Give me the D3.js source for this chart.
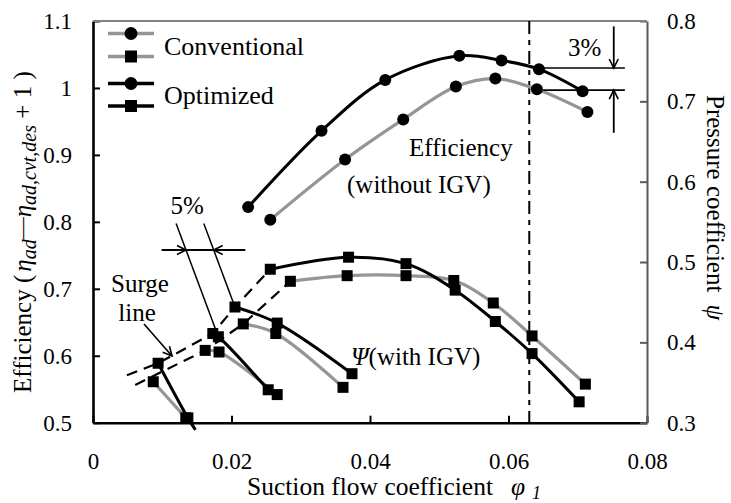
<!DOCTYPE html>
<html>
<head>
<meta charset="utf-8">
<script src="https://cdn.jsdelivr.net/npm/d3@7"></script>
<style>
  body { margin: 0; background: #fff; }
  svg text { font-family: "Liberation Serif", "Times New Roman", serif; fill: #000; }
</style>
</head>
<body>
<script>
// ---- data ----
let xTicks = [0, 0.02, 0.04, 0.06, 0.08];
let yLeftTicks = [0.5, 0.6, 0.7, 0.8, 0.9, 1, 1.1];
let yRightTicks = [0.3, 0.4, 0.5, 0.6, 0.7, 0.8];

// efficiency (without IGV), left axis
let effConvPhi = [0.0256, 0.0364, 0.0448, 0.0524, 0.0581, 0.0641, 0.0714];
let effConvVal = [0.803, 0.893, 0.953, 1.002, 1.014, 0.998, 0.964];
let effOptPhi = [0.0224, 0.0330, 0.0422, 0.0529, 0.0590, 0.0644, 0.0707];
let effOptVal = [0.822, 0.936, 1.012, 1.048, 1.041, 1.028, 0.995];

// pressure coefficient (with IGV), right axis, one list per IGV setting
let psiConvPhi = [
  [0.0087, 0.0134],
  [0.0162, 0.0182, 0.0266],
  [0.0217, 0.0264, 0.0361],
  [0.0285, 0.0367, 0.0452, 0.0521, 0.0578, 0.0634, 0.0711]
];
let psiConvVal = [
  [0.351, 0.306],
  [0.390, 0.388, 0.335],
  [0.423, 0.411, 0.344],
  [0.476, 0.483, 0.483, 0.477, 0.449, 0.408, 0.348]
];
let psiOptPhi = [
  [0.0094, 0.0137, 0.0148],
  [0.0173, 0.0181, 0.0253],
  [0.0205, 0.0266, 0.0374],
  [0.0256, 0.0369, 0.0452, 0.0523, 0.0581, 0.0634, 0.0702]
];
let psiOptVal = [
  [0.374, 0.306, 0.291],
  [0.411, 0.407, 0.341],
  [0.444, 0.424, 0.361],
  [0.491, 0.506, 0.498, 0.465, 0.426, 0.386, 0.326]
];

// surge lines
let surgeOptPhi = [0.0049, 0.0094, 0.0173, 0.0205, 0.0256];
let surgeOptVal = [0.359, 0.374, 0.411, 0.444, 0.491];
let surgeConvPhi = [0.0061, 0.0162, 0.0217, 0.0285];
let surgeConvVal = [0.347, 0.390, 0.423, 0.476];

let designPhi = 0.063;

// ---- layout ----
let W = 731, H = 503;
let m = { left: 93, right: 647, top: 21, bottom: 422.7 };
let gray = "#959595";
let font = 25;
let tickFont = 23;

let svg = d3.select("body").append("svg").attr("width", W).attr("height", H);

let x = d3.scaleLinear().domain([0, 0.08]).range([m.left, m.right]);
let yL = d3.scaleLinear().domain([0.5, 1.1]).range([m.bottom, m.top]);
let yR = d3.scaleLinear().domain([0.3, 0.8]).range([m.bottom, m.top]);

let zip = (a, b) => a.map((v, i) => [v, b[i]]);

// arrow head
svg.append("defs").append("marker")
  .attr("id", "arr")
  .attr("markerUnits", "userSpaceOnUse")
  .attr("markerWidth", 20).attr("markerHeight", 20)
  .attr("refX", 0).attr("refY", 0)
  .attr("viewBox", "-10 -10 20 20")
  .attr("orient", "auto")
  .append("path")
  .attr("d", "M-9,-4.5L0,0L-9,4.5")
  .attr("fill", "none").attr("stroke", "#000").attr("stroke-width", 1.6);

// ---- axes ----
let DrawAxes = () =>
{
  let gx = svg.append("g")
    .attr("transform", "translate(0," + m.bottom + ")")
    .call(d3.axisBottom(x).tickValues(xTicks).tickSize(-7).tickSizeOuter(0).tickPadding(30).tickFormat(d => String(d)));
  let gl = svg.append("g")
    .attr("transform", "translate(" + m.left + ",0)")
    .call(d3.axisLeft(yL).tickValues(yLeftTicks).tickSize(-7).tickSizeOuter(0).tickPadding(21).tickFormat(d => String(d)));
  let gr = svg.append("g")
    .attr("transform", "translate(" + m.right + ",0)")
    .call(d3.axisRight(yR).tickValues(yRightTicks).tickSize(-7).tickSizeOuter(0).tickPadding(20).tickFormat(d => String(d)));

  [gx, gl].forEach(g =>
  {
    g.select(".domain").attr("stroke", "#000").attr("stroke-width", 2.6);
    g.selectAll(".tick line").attr("stroke", "#000").attr("stroke-width", 2);
  });
  gr.select(".domain").attr("stroke", "#5a5a5a").attr("stroke-width", 2);
  gr.selectAll(".tick line").attr("stroke", "#5a5a5a").attr("stroke-width", 2);
  [gx, gl, gr].forEach(g =>
    g.selectAll(".tick text").attr("font-size", tickFont).attr("fill", "#000"));

  // top frame line
  svg.append("line")
    .attr("x1", m.left).attr("x2", m.right).attr("y1", m.top).attr("y2", m.top)
    .attr("stroke", "#808080").attr("stroke-width", 2);
};

let DrawTitles = () =>
{
  // bottom
  let tb = svg.append("text").attr("x", 247).attr("y", 495).attr("font-size", 25.5);
  tb.append("tspan").text("Suction flow coefficient");
  tb.append("tspan").attr("font-style", "italic").attr("dx", 18).text("\u03c6");
  tb.append("tspan").attr("font-style", "italic").attr("font-size", 18).attr("dx", 7).attr("dy", 4).text("1");

  // left
  let tl = svg.append("text")
    .attr("transform", "translate(31,393) rotate(-90)")
    .attr("font-size", font);
  tl.append("tspan").text("Efficiency (");
  tl.append("tspan").attr("font-style", "italic").attr("dx", 3).text("\u03b7");
  tl.append("tspan").attr("font-style", "italic").attr("font-size", 20).attr("dy", 5).text("ad");
  tl.append("tspan").attr("dy", -7).attr("font-size", 22).text("\u2014");
  tl.append("tspan").attr("font-style", "italic").attr("dy", 2).text("\u03b7");
  tl.append("tspan").attr("font-style", "italic").attr("font-size", 20).attr("dy", 5).text("ad,cvt,des");
  tl.append("tspan").attr("dy", -5).text(" + 1  )");

  // right
  let tr = svg.append("text")
    .attr("transform", "translate(707,95) rotate(90)")
    .attr("font-size", font);
  tr.append("tspan").text("Pressure coefficient");
  tr.append("tspan").attr("font-style", "italic").attr("dx", 12).text("\u03c8");
};

// ---- data marks ----
let line = (sx, sy) => d3.line().x(d => sx(d[0])).y(d => sy(d[1])).curve(d3.curveCatmullRom.alpha(0.5));

let DrawSeries = () =>
{
  let lineR = line(x, yR);
  let lineL = line(x, yL);

  // vertical design line
  svg.append("line")
    .attr("x1", x(designPhi)).attr("x2", x(designPhi))
    .attr("y1", m.top).attr("y2", m.bottom)
    .attr("stroke", "#000").attr("stroke-width", 2).attr("stroke-dasharray", "13,6,5,6");

  // surge lines
  [zip(surgeOptPhi, surgeOptVal), zip(surgeConvPhi, surgeConvVal)].forEach(s =>
    svg.append("path").attr("d", d3.line().x(d => x(d[0])).y(d => yR(d[1]))(s))
      .attr("fill", "none").attr("stroke", "#000").attr("stroke-width", 2.2).attr("stroke-dasharray", "11,7"));

  // conventional (gray) then optimized (black)
  let convCurves = psiConvPhi.map((p, i) => zip(p, psiConvVal[i]));
  let optCurves = psiOptPhi.map((p, i) => zip(p, psiOptVal[i]));
  let effConv = zip(effConvPhi, effConvVal);
  let effOpt = zip(effOptPhi, effOptVal);

  convCurves.forEach(c => svg.append("path").attr("d", lineR(c))
    .attr("fill", "none").attr("stroke", gray).attr("stroke-width", 3.2));
  svg.append("path").attr("d", lineL(effConv))
    .attr("fill", "none").attr("stroke", gray).attr("stroke-width", 3.2);
  optCurves.forEach(c => svg.append("path").attr("d", lineR(c))
    .attr("fill", "none").attr("stroke", "#000").attr("stroke-width", 3));
  svg.append("path").attr("d", lineL(effOpt))
    .attr("fill", "none").attr("stroke", "#000").attr("stroke-width", 3);

  // markers
  let sq = 11;
  let allSquares = convCurves.flat().concat(optCurves.flat()).filter(d => d[1] >= 0.3);
  svg.selectAll("rect.pt").data(allSquares).enter().append("rect")
    .attr("class", "pt")
    .attr("x", d => x(d[0]) - sq / 2).attr("y", d => yR(d[1]) - sq / 2)
    .attr("width", sq).attr("height", sq).attr("fill", "#000");
  svg.selectAll("circle.pt").data(effConv.concat(effOpt)).enter().append("circle")
    .attr("class", "pt")
    .attr("cx", d => x(d[0])).attr("cy", d => yL(d[1])).attr("r", 6).attr("fill", "#000");
};

// ---- annotations (positions in data units) ----
let DrawNotes = () =>
{
  let seg = (x1, y1, x2, y2, w, arrow) =>
  {
    let l = svg.append("line").attr("x1", x1).attr("y1", y1).attr("x2", x2).attr("y2", y2)
      .attr("stroke", "#000").attr("stroke-width", w);
    if (arrow) l.attr("marker-end", "url(#arr)");
  };

  // 3% between efficiency curves
  let e1 = yL(1.0298), e2 = yL(0.9968), xa = x(0.0752);
  seg(x(0.0650), e1, x(0.0768), e1, 1.6);
  seg(x(0.0650), e2, x(0.0768), e2, 1.6);
  seg(xa, yL(1.092), xa, e1, 1.8, true);
  seg(xa, yL(0.933), xa, e2, 1.8, true);
  svg.append("text").attr("x", x(0.0686)).attr("y", yL(1.048)).attr("font-size", font).text("3%");

  // 5% between surge lines
  let yh = yR(0.515);
  let s1 = [x(0.0120), yR(0.548), x(0.0181), yR(0.407)];
  let s2 = [x(0.0160), yR(0.548), x(0.0205), yR(0.444)];
  seg(s1[0], s1[1], s1[2], s1[3], 1.5);
  seg(s2[0], s2[1], s2[2], s2[3], 1.5);
  let ix1 = s1[0] + (yh - s1[1]) / (s1[3] - s1[1]) * (s1[2] - s1[0]);
  let ix2 = s2[0] + (yh - s2[1]) / (s2[3] - s2[1]) * (s2[2] - s2[0]);
  seg(x(0.0099), yh, ix1, yh, 2, true);
  seg(x(0.0220), yh, ix2, yh, 2, true);
  seg(ix1, yh, ix2, yh, 2);
  svg.append("text").attr("x", x(0.0136)).attr("y", yR(0.560)).attr("text-anchor", "middle")
    .attr("font-size", font).text("5%");

  // surge line label
  svg.append("text").attr("x", 140).attr("y", 292).attr("text-anchor", "middle").attr("font-size", font).text("Surge");
  svg.append("text").attr("x", 137).attr("y", 321).attr("text-anchor", "middle").attr("font-size", font).text("line");
  seg(144, 324, 172, 356, 1.6, true);

  svg.append("text").attr("x", 409).attr("y", 156).attr("font-size", font).text("Efficiency");
  svg.append("text").attr("x", 347).attr("y", 193).attr("font-size", font).text("(without IGV)");

  let tp = svg.append("text").attr("x", 351).attr("y", 365).attr("font-size", font);
  tp.append("tspan").attr("font-style", "italic").text("\u03a8");
  tp.append("tspan").text("(with IGV)");
};

let DrawLegend = () =>
{
  let rows = [
    { c: gray, shape: "circle", y: 33.5 },
    { c: gray, shape: "square", y: 56.5 },
    { c: "#000", shape: "circle", y: 83.5 },
    { c: "#000", shape: "square", y: 106 }
  ];
  let lg = svg.append("g");
  rows.forEach(r =>
  {
    lg.append("line").attr("x1", 108).attr("x2", 154).attr("y1", r.y).attr("y2", r.y)
      .attr("stroke", r.c).attr("stroke-width", 3.4);
    if (r.shape == "circle")
      lg.append("circle").attr("cx", 131).attr("cy", r.y).attr("r", 6.5).attr("fill", "#000");
    else
      lg.append("rect").attr("x", 125).attr("y", r.y - 6).attr("width", 12).attr("height", 12).attr("fill", "#000");
  });
  lg.append("text").attr("x", 164).attr("y", 55).attr("font-size", 26).text("Conventional");
  lg.append("text").attr("x", 164).attr("y", 104).attr("font-size", 26).text("Optimized");
};

DrawAxes();
DrawTitles();
DrawSeries();
DrawNotes();
DrawLegend();
</script>
</body>
</html>
